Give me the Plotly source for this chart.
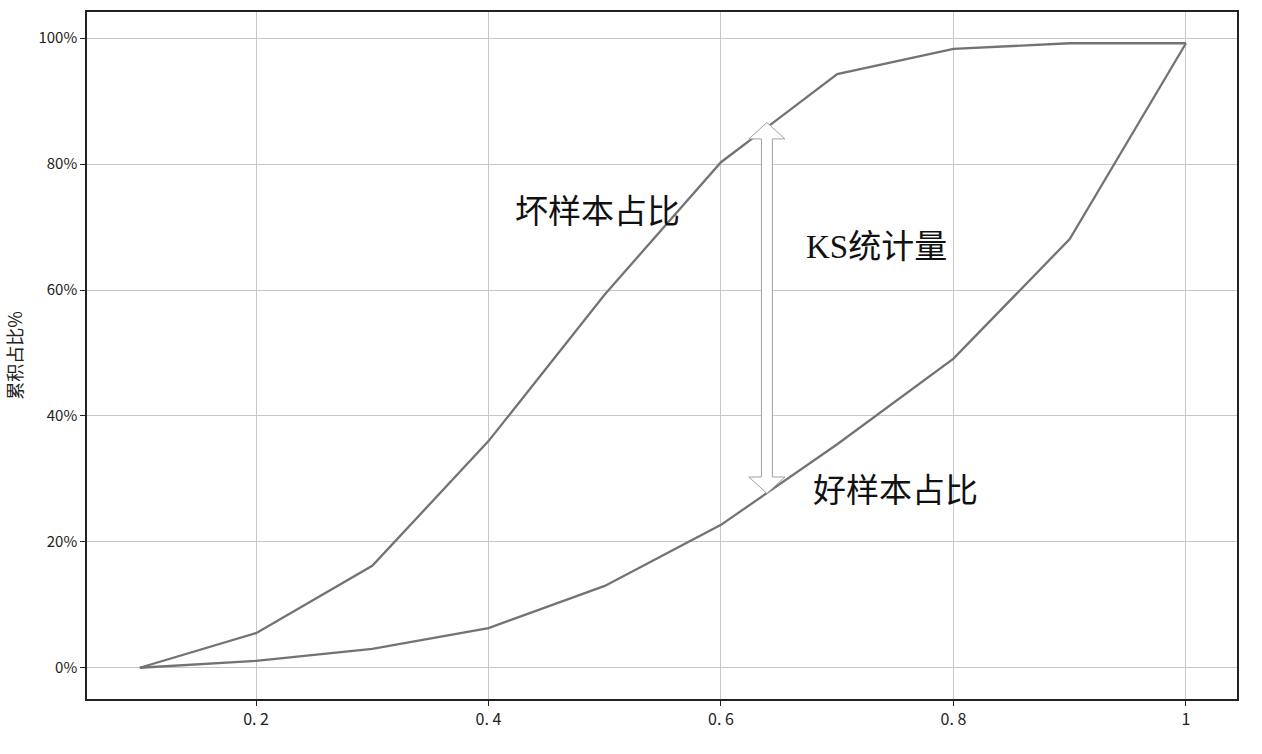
import plotly.graph_objects as go

x_vals = [0.1, 0.2, 0.3, 0.4, 0.5, 0.6, 0.7, 0.8, 0.9, 1.0]
bad_cum = [0.0, 0.055, 0.162, 0.36, 0.593, 0.803, 0.943, 0.983, 0.992, 0.992]
good_cum = [0.0, 0.011, 0.030, 0.063, 0.130, 0.227, 0.355, 0.491, 0.681, 0.992]

x_ticks = [0.2, 0.4, 0.6, 0.8, 1.0]
x_tick_labels = ["0.\u00a02", "0.\u00a04", "0.\u00a06", "0.\u00a08", "1"]
y_ticks = [0, 0.2, 0.4, 0.6, 0.8, 1.0]
y_tick_labels = ["0%", "20%", "40%", "60%", "80%", "100%"]

labels = [
    {"text": "坏样本占比", "x": 0.494, "y": 0.724},
    {"text": "KS统计量", "x": 0.734, "y": 0.668},
    {"text": "好样本占比", "x": 0.750, "y": 0.280},
]
arrow_x = 0.6395
arrow_top = 0.866
arrow_bottom = 0.277

line_color = "#737373"
fig = go.Figure()
fig.add_trace(go.Scatter(x=x_vals, y=bad_cum, mode="lines",
                         line=dict(color=line_color, width=2.3), showlegend=False))
fig.add_trace(go.Scatter(x=x_vals, y=good_cum, mode="lines",
                         line=dict(color=line_color, width=2.3), showlegend=False))

# double-headed block arrow (data coords)
sw = 0.0047   # shaft half width
hw = 0.0155   # head half width
hl = 0.026    # head length
pts = [
    (arrow_x, arrow_top),
    (arrow_x + hw, arrow_top - hl),
    (arrow_x + sw, arrow_top - hl),
    (arrow_x + sw, arrow_bottom + hl),
    (arrow_x + hw, arrow_bottom + hl),
    (arrow_x, arrow_bottom),
    (arrow_x - hw, arrow_bottom + hl),
    (arrow_x - sw, arrow_bottom + hl),
    (arrow_x - sw, arrow_top - hl),
    (arrow_x - hw, arrow_top - hl),
]
path = "M " + " L ".join(f"{px},{py}" for px, py in pts) + " Z"
fig.add_shape(type="path", path=path, xref="x", yref="y",
              fillcolor="white", line=dict(color="#a0a0a0", width=1), layer="above")

for lab in labels:
    fig.add_annotation(x=lab["x"], y=lab["y"], text=lab["text"], showarrow=False,
                       xref="x", yref="y",
                       font=dict(family="Liberation Serif, Times New Roman, Noto Sans CJK SC",
                                 size=33, color="#111111"))

fig.update_layout(
    width=1262, height=754,
    margin=dict(l=87, r=25, t=10, b=55),
    paper_bgcolor="white", plot_bgcolor="white",
    font=dict(family="Noto Sans CJK SC", size=15, color="#222222"),
    xaxis=dict(range=[0.0546, 1.0439], tickvals=x_ticks, ticktext=x_tick_labels,
               showgrid=True, gridcolor="#c8c8c8", gridwidth=1, zeroline=False,
               showline=True, linecolor="#222222", linewidth=1.5, mirror=True,
               ticks="outside", ticklen=5, tickcolor="#222222",
               tickfont=dict(size=16, color="#222222")),
    yaxis=dict(range=[-0.0496, 1.0416], tickvals=y_ticks, ticktext=y_tick_labels,
               showgrid=True, gridcolor="#c8c8c8", gridwidth=1, zeroline=False,
               showline=True, linecolor="#222222", linewidth=1.5, mirror=True,
               ticks="outside", ticklen=5, tickcolor="#222222",
               tickfont=dict(size=15, color="#222222"),
               title=dict(text="累积占比%", font=dict(size=18, color="#222222"), standoff=11)),
)

fig.write_html("out.html")
